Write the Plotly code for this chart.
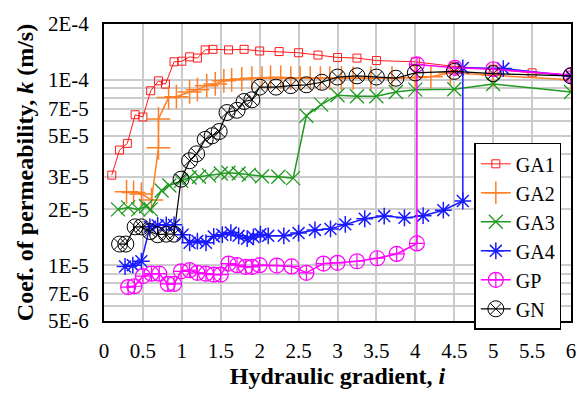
import plotly.graph_objects as go

# ---- data ----
ga1_x = [0.1, 0.2, 0.3, 0.4, 0.5, 0.6, 0.7, 0.79, 0.9, 1.0, 1.1, 1.2, 1.3, 1.4, 1.6, 1.8, 2.0, 2.25, 2.5, 2.75, 3.0, 3.25, 3.5, 4.0, 4.5, 5.0, 5.5, 6.0]
ga1_k = [3.06e-5, 4.18e-5, 4.54e-5, 6.48e-5, 6.3e-5, 8.73e-5, 9.87e-5, 9.48e-5, 1.25e-4, 1.26e-4, 1.33e-4, 1.31e-4, 1.45e-4, 1.46e-4, 1.45e-4, 1.46e-4, 1.43e-4, 1.42e-4, 1.40e-4, 1.36e-4, 1.32e-4, 1.31e-4, 1.27e-4, 1.25e-4, 1.18e-4, 1.14e-4, 1.09e-4, 1.06e-4]

ga2_x = [0.29, 0.38, 0.48, 0.61, 0.7, 0.7, 0.83, 0.93, 1.1, 1.2, 1.32, 1.43, 1.54, 1.64, 1.77, 1.9, 2.03, 2.14, 2.27, 2.4, 2.52, 2.65, 2.78, 2.9, 3.05, 3.2, 3.43, 3.7, 4.0, 4.2, 4.45, 5.0, 6.0]
ga2_k = [2.49e-5, 2.47e-5, 2.42e-5, 2.25e-5, 4.3e-5, 6.15e-5, 8.02e-5, 8.1e-5, 8.6e-5, 8.85e-5, 9.3e-5, 9.5e-5, 9.87e-5, 1.0e-4, 1.01e-4, 1.02e-4, 1.02e-4, 1.03e-4, 1.03e-4, 1.02e-4, 1.02e-4, 1.02e-4, 1.02e-4, 1.02e-4, 1.02e-4, 1.02e-4, 1.02e-4, 1.02e-4, 1.03e-4, 1.04e-4, 1.09e-4, 1.06e-4, 1.0e-4]

ga3_x = [0.18, 0.31, 0.44, 0.54, 0.6, 0.74, 0.84, 0.99, 1.1, 1.22, 1.35, 1.5, 1.6, 1.73, 1.86, 2.03, 2.24, 2.43, 2.6, 2.79, 3.0, 3.25, 3.5, 3.75, 4.0, 4.5, 5.0, 6.0]
ga3_k = [2.0e-5, 2.05e-5, 2.0e-5, 2.08e-5, 2.0e-5, 2.53e-5, 2.69e-5, 2.85e-5, 2.97e-5, 3.0e-5, 3.05e-5, 3.12e-5, 3.15e-5, 3.12e-5, 3.07e-5, 3.02e-5, 3.0e-5, 2.95e-5, 6.4e-5, 7.35e-5, 8.25e-5, 8.15e-5, 8.15e-5, 8.6e-5, 8.85e-5, 8.9e-5, 9.5e-5, 8.6e-5]

ga4_x = [0.27, 0.37, 0.48, 0.59, 0.69, 0.8, 0.9, 1.01, 1.1, 1.2, 1.31, 1.41, 1.52, 1.63, 1.73, 1.84, 1.92, 2.01, 2.11, 2.31, 2.5, 2.71, 2.91, 3.1, 3.35, 3.6, 3.86, 4.1, 4.36, 4.61, 4.61, 5.13, 6.0]
ga4_k = [9.84e-6, 1.0e-5, 1.05e-5, 1.61e-5, 1.64e-5, 1.65e-5, 1.65e-5, 1.46e-5, 1.32e-5, 1.35e-5, 1.32e-5, 1.43e-5, 1.46e-5, 1.5e-5, 1.44e-5, 1.39e-5, 1.42e-5, 1.47e-5, 1.44e-5, 1.44e-5, 1.49e-5, 1.55e-5, 1.57e-5, 1.66e-5, 1.78e-5, 1.84e-5, 1.8e-5, 1.85e-5, 1.98e-5, 2.22e-5, 1.16e-4, 1.15e-4, 1.05e-4]

gp_x = [0.31, 0.39, 0.5, 0.61, 0.71, 0.82, 0.9, 0.99, 1.1, 1.2, 1.31, 1.41, 1.5, 1.6, 1.71, 1.82, 1.9, 2.0, 2.22, 2.41, 2.6, 2.82, 3.0, 3.25, 3.51, 3.76, 4.02, 4.02, 4.51, 5.0, 6.0]
gp_k = [7.62e-6, 7.7e-6, 8.74e-6, 9.0e-6, 9.0e-6, 7.92e-6, 7.92e-6, 9.27e-6, 9.4e-6, 9.1e-6, 9.0e-6, 8.9e-6, 8.9e-6, 1.02e-5, 1.0e-5, 9.8e-6, 9.8e-6, 1.0e-5, 9.95e-6, 9.85e-6, 9.1e-6, 1.02e-5, 1.03e-5, 1.05e-5, 1.09e-5, 1.15e-5, 1.31e-5, 1.21e-4, 1.16e-4, 1.14e-4, 1.06e-4]

gn_x = [0.2, 0.28, 0.4, 0.48, 0.59, 0.69, 0.8, 0.9, 0.99, 1.1, 1.19, 1.3, 1.39, 1.48, 1.58, 1.71, 1.8, 1.9, 2.0, 2.21, 2.4, 2.6, 2.8, 3.0, 3.25, 3.5, 3.75, 4.0, 4.5, 5.0, 6.0]
gn_k = [1.3e-5, 1.3e-5, 1.61e-5, 1.61e-5, 1.52e-5, 1.46e-5, 1.47e-5, 1.47e-5, 2.91e-5, 3.66e-5, 3.99e-5, 4.77e-5, 4.99e-5, 5.26e-5, 6.66e-5, 6.85e-5, 7.64e-5, 7.8e-5, 9.13e-5, 9.13e-5, 9.3e-5, 9.4e-5, 9.7e-5, 1.035e-4, 1.05e-4, 1.035e-4, 1.02e-4, 1.09e-4, 1.11e-4, 1.08e-4, 1.05e-4]

y_major = [5e-6, 7e-6, 1e-5, 2e-5, 3e-5, 5e-5, 7e-5, 1e-4, 2e-4]
y_major_text = ["5E-6", "7E-6", "1E-5", "2E-5", "3E-5", "5E-5", "7E-5", "1E-4", "2E-4"]
y_minor = [6e-6, 8e-6, 9e-6, 4e-5, 6e-5, 8e-5, 9e-5]

series = [
    ("GA1", ga1_x, ga1_k, "#ff1a1a", "square-open", 8, 1.0, 1.0),
    ("GA2", ga2_x, ga2_k, "#ff7f27", "cross-thin-open", 17, 1.5, 1.5),
    ("GA3", ga3_x, ga3_k, "#1f9a1f", "x-thin-open", 14, 1.5, 1.3),
    ("GA4", ga4_x, ga4_k, "#1a1aff", "asterisk-open", 14, 1.5, 1.5),
    ("GP", gp_x, gp_k, "#ff00ff", "circle-cross-open", 15, 1.5, 1.2),
    ("GN", gn_x, gn_k, "#000000", "circle-x-open", 16, 1.2, 1.0),
]

fig = go.Figure()
for name, xs, ks, col, sym, sz, lw, mlw in series:
    fig.add_trace(go.Scatter(
        x=xs, y=ks, name=name, mode="lines+markers",
        line=dict(color=col, width=lw),
        marker=dict(symbol=sym, size=sz, color=col, line=dict(color=col, width=mlw)),
    ))

font_fam = "Liberation Serif, Times New Roman, serif"
fig.update_layout(
    width=588, height=394,
    margin=dict(l=104, r=12, t=17, b=65),
    paper_bgcolor="white", plot_bgcolor="white",
    font=dict(family=font_fam, color="black", size=20),
    showlegend=True,
    legend=dict(
        x=0.793, y=0.6, xanchor="left", yanchor="top",
        bgcolor="white", bordercolor="black", borderwidth=1.5,
        font=dict(family=font_fam, size=20, color="black"),
    ),
)
fig.update_xaxes(
    range=[0, 6], tickmode="linear", tick0=0, dtick=0.5,
    showgrid=True, gridcolor="#cccccc", gridwidth=1.5,
    showline=True, linecolor="black", linewidth=2, mirror=True,
    ticks="", ticklabelstandoff=10, zeroline=False,
    tickfont=dict(size=21),
    title=dict(text="<b>Hydraulic gradient, <i>i</i></b>", font=dict(size=24), standoff=2),
)
fig.update_yaxes(
    type="log", range=[-5.30103, -3.69897],
    tickmode="array", tickvals=y_major, ticktext=y_major_text,
    showgrid=True, gridcolor="#cccccc", gridwidth=1.5,
    minor=dict(tickmode="array", tickvals=y_minor, showgrid=True, gridcolor="#cccccc", gridwidth=1.5, ticks=""),
    showline=True, linecolor="black", linewidth=2, mirror=True,
    ticks="", ticklabelstandoff=9, zeroline=False,
    tickfont=dict(size=21),
    title=dict(text="<b>Coef. of permeability, <i>k</i> (m/s)</b>", font=dict(size=24), standoff=8),
)

fig.write_html("out.html")
